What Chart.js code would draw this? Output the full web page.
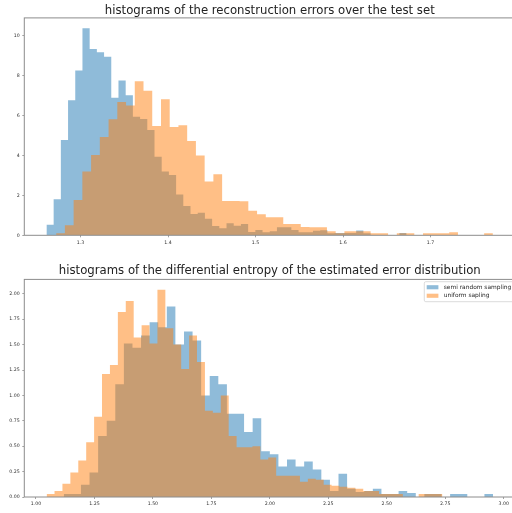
<!DOCTYPE html>
<html>
<head>
<meta charset="utf-8">
<script src="https://cdn.jsdelivr.net/npm/chart.js@4.4.1/dist/chart.umd.min.js"></script>
<style>
  html, body { margin: 0; padding: 0; background: #ffffff; overflow: hidden; width: 512px; height: 513px; }
  canvas { position: absolute; left: 0; }
  #c1 { top: 0px; }
  #c2 { top: 258px; }
</style>
</head>
<body>
<canvas id="c1" width="516" height="258"></canvas>
<canvas id="c2" width="516" height="255"></canvas>
<script>
// ---------------- DATA ----------------
const seriesLabels = ['semi random sampling', 'uniform sapling'];

// top chart: reconstruction errors (density histograms, 50 bins each)
const topTitle = 'histograms of the reconstruction errors over the test set';
const topBlueBinStart = 1.2611, topBlueBinWidth = 0.00823;
const topBlue = [0.53, 1.80, 4.77, 6.77, 8.25, 10.37, 9.33, 9.17, 8.95, 6.89,
                 7.75, 7.01, 5.94, 5.83, 5.28, 3.93, 3.19, 3.02, 2.05, 1.47,
                 1.07, 1.13, 0.83, 0.47, 0.35, 0.60, 0.48, 0.57, 0.17, 0.27,
                 0.15, 0.20, 0.40, 0.40, 0.27, 0.15, 0.15, 0.23, 0.25, 0.10,
                 0.12, 0.12, 0.12, 0.24, 0.10, 0, 0, 0, 0, 0.12];
const topOrangeBinStart = 1.2722, topOrangeBinWidth = 0.00998;
const topOrange = [0.10, 0.50, 1.77, 3.19, 4.02, 4.92, 5.81, 6.68, 6.50, 7.72,
                   7.24, 5.48, 6.82, 5.43, 5.51, 4.72, 4.00, 2.69, 3.06, 1.72,
                   1.72, 1.70, 1.23, 1.05, 0.90, 0.90, 0.57, 0.57, 0.42, 0.40,
                   0.40, 0.20, 0.10, 0.20, 0.20, 0.20, 0.10, 0.10, 0, 0.10,
                   0.10, 0, 0.10, 0.10, 0.10, 0.15, 0, 0, 0, 0.10];
const topXRange = [1.2358, 1.7968];
const topYRange = [0, 10.89];
const topXTicks = [1.3, 1.4, 1.5, 1.6, 1.7];
const topXTickLabels = ['1.3', '1.4', '1.5', '1.6', '1.7'];
const topYTicks = [0, 2, 4, 6, 8, 10];
const topYTickLabels = ['0', '2', '4', '6', '8', '10'];

// bottom chart: differential entropy
const botTitle = 'histograms of the differential entropy of the estimated error distribution';
const botBlueBinStart = 1.1191, botBlueBinWidth = 0.03670;
const botBlue = [0.03, 0.03, 0.12, 0.24, 0.60, 0.75, 1.11, 1.51, 1.47, 1.59,
                 1.72, 1.67, 1.875, 1.50, 1.63, 1.54, 1.00, 1.19, 1.11, 0.82,
                 0.82, 0.64, 0.775, 0.45, 0.42, 0.30, 0.37, 0.30, 0.35, 0.27,
                 0.17, 0.06, 0.23, 0.08, 0.05, 0.06, 0.08, 0.03, 0.03, 0.06,
                 0.04, 0, 0.03, 0.03, 0, 0.03, 0.03, 0, 0, 0.03];
const botOrangeBinStart = 1.0457, botOrangeBinWidth = 0.03384;
const botOrange = [0.03, 0.06, 0.13, 0.24, 0.36, 0.54, 0.79, 1.21, 1.30, 1.82,
                   1.93, 1.57, 1.69, 1.51, 2.04, 1.66, 1.50, 1.26, 1.59, 1.33,
                   0.85, 0.83, 1.00, 0.60, 0.49, 0.49, 0.50, 0.37, 0.39, 0.21,
                   0.21, 0.21, 0.15, 0.18, 0.17, 0.12, 0.11, 0.10, 0.09, 0.08,
                   0.06, 0.06, 0.03, 0.03, 0.03, 0, 0, 0.03, 0.03, 0.03];
const botXRange = [0.9503, 3.0493];
const botYRange = [0, 2.142];
const botXTicks = [1.00, 1.25, 1.50, 1.75, 2.00, 2.25, 2.50, 2.75, 3.00];
const botXTickLabels = ['1.00', '1.25', '1.50', '1.75', '2.00', '2.25', '2.50', '2.75', '3.00'];
const botYTicks = [0, 0.25, 0.5, 0.75, 1.0, 1.25, 1.5, 1.75, 2.0];
const botYTickLabels = ['0.00', '0.25', '0.50', '0.75', '1.00', '1.25', '1.50', '1.75', '2.00'];

// ---------------- STYLE ----------------
const BLUE = 'rgba(31,119,180,0.5)';
const ORANGE = 'rgba(255,127,14,0.5)';
const FONT = 'DejaVu Sans';
const SPINE = '#8c8c8c';

function histPoints(start, width, heights) {
  const pts = heights.map((h, i) => ({ x: start + i * width, y: h }));
  pts.push({ x: start + heights.length * width, y: heights[heights.length - 1] });
  return pts;
}

function histDataset(label, color, start, width, heights) {
  return {
    label: label,
    data: histPoints(start, width, heights),
    stepped: true,
    fill: 'origin',
    backgroundColor: color,
    borderColor: 'rgba(0,0,0,0)',
    borderWidth: 0,
    pointRadius: 0,
    pointHoverRadius: 0,
    tension: 0
  };
}

const framePlugin = {
  id: 'frame',
  afterDraw(chart) {
    const a = chart.chartArea, ctx = chart.ctx;
    ctx.save();
    ctx.strokeStyle = SPINE;
    ctx.lineWidth = 1;
    ctx.strokeRect(a.left, a.top, a.right - a.left, a.bottom - a.top);
    ctx.restore();
  }
};

const legendPlugin = {
  id: 'histLegend',
  afterDraw(chart, args, opts) {
    if (!opts || !opts.show) return;
    const ctx = chart.ctx;
    ctx.save();
    const fx = 424.3, fy = 23.7, fw = 100, fh = 20, r = 1.5;
    ctx.beginPath();
    ctx.moveTo(fx + r, fy);
    ctx.lineTo(fx + fw, fy);
    ctx.lineTo(fx + fw, fy + fh);
    ctx.lineTo(fx + r, fy + fh);
    ctx.arcTo(fx, fy + fh, fx, fy + fh - r, r);
    ctx.lineTo(fx, fy + r);
    ctx.arcTo(fx, fy, fx + r, fy, r);
    ctx.closePath();
    ctx.fillStyle = 'rgba(255,255,255,0.8)';
    ctx.fill();
    ctx.strokeStyle = '#cccccc';
    ctx.lineWidth = 0.7;
    ctx.stroke();
    const order = opts.order;
    const rowsY = [27.2, 35.7];
    order.forEach((dsIndex, k) => {
      const ds = chart.data.datasets[dsIndex];
      ctx.fillStyle = ds.backgroundColor;
      ctx.fillRect(426.7, rowsY[k], 11.7, 4.1);
      ctx.fillStyle = '#262626';
      ctx.font = '5.9px "' + FONT + '"';
      ctx.textBaseline = 'middle';
      ctx.textAlign = 'left';
      ctx.fillText(ds.label, 443.7, rowsY[k] + 2.05);
    });
    ctx.restore();
  }
};

function makeChart(id, cfg) {
  const axisCommon = (range, ticks, labels, isX, fitSize) => ({
    type: 'linear',
    min: range[0],
    max: range[1],
    afterBuildTicks: (s) => { s.ticks = ticks.map(v => ({ value: v })); },
    afterFit: (s) => { if (isX) { s.height = fitSize; } else { s.width = fitSize; } },
    ticks: {
      autoSkip: false,
      maxRotation: 0,
      minRotation: 0,
      padding: isX ? 2.4 : 2.5,
      color: '#333333',
      font: { family: FONT, size: 4.7 },
      callback: (v, i) => labels[i]
    },
    grid: { drawOnChartArea: false, drawTicks: true, tickLength: 2, color: SPINE, lineWidth: 0.8 },
    border: { display: false }
  });
  return new Chart(document.getElementById(id), {
    type: 'line',
    data: {
      datasets: [
        histDataset(seriesLabels[1], ORANGE, cfg.oStart, cfg.oWidth, cfg.orange),
        histDataset(seriesLabels[0], BLUE, cfg.bStart, cfg.bWidth, cfg.blue)
      ]
    },
    options: {
      responsive: false,
      animation: false,
      events: [],
      layout: { padding: { left: 0, right: 0.7, top: 0, bottom: 0 } },
      scales: {
        x: axisCommon(cfg.xRange, cfg.xTicks, cfg.xLabels, true, cfg.xAxisH),
        y: axisCommon(cfg.yRange, cfg.yTicks, cfg.yLabels, false, 24.3)
      },
      plugins: {
        legend: { display: false },
        tooltip: { enabled: false },
        title: {
          display: true,
          text: cfg.title,
          fullSize: false,
          color: '#222222',
          font: { family: FONT, size: 11.7, weight: 'normal', lineHeight: 1.2 },
          padding: cfg.titlePad
        },
        histLegend: { show: cfg.legend, order: [1, 0] }
      }
    },
    plugins: [framePlugin, legendPlugin]
  });
}

makeChart('c1', {
  title: topTitle,
  bStart: topBlueBinStart, bWidth: topBlueBinWidth, blue: topBlue,
  oStart: topOrangeBinStart, oWidth: topOrangeBinWidth, orange: topOrange,
  xRange: topXRange, yRange: topYRange,
  xTicks: topXTicks, xLabels: topXTickLabels,
  yTicks: topYTicks, yLabels: topYTickLabels,
  xAxisH: 258 - 235.3,
  titlePad: { top: 3.86, bottom: 0 },
  legend: false
});

makeChart('c2', {
  title: botTitle,
  bStart: botBlueBinStart, bWidth: botBlueBinWidth, blue: botBlue,
  oStart: botOrangeBinStart, oWidth: botOrangeBinWidth, orange: botOrange,
  xRange: botXRange, yRange: botYRange,
  xTicks: botXTicks, xLabels: botXTickLabels,
  yTicks: botYTicks, yLabels: botYTickLabels,
  xAxisH: 255 - 239,
  titlePad: { top: 5.93, bottom: 1.43 },
  legend: true
});
</script>
</body>
</html>
